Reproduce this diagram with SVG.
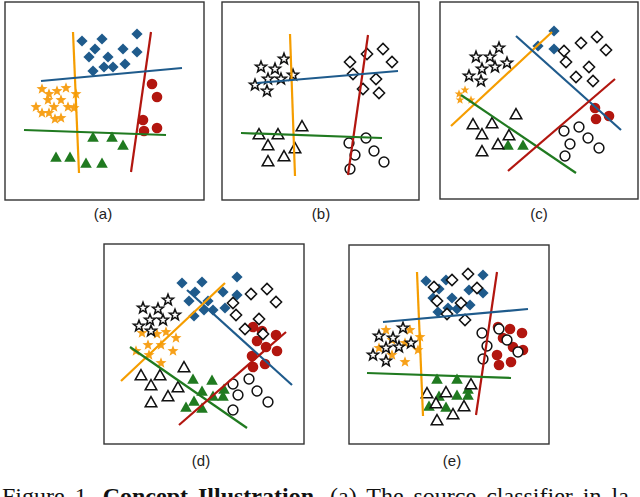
<svg xmlns="http://www.w3.org/2000/svg" width="640" height="497" viewBox="0 0 640 497">
<style>
.box{fill:#fff;stroke:#333;stroke-width:1.4}
.fb{fill:#1f5b8c}
.fo{fill:#f7a11a}
.fr{fill:#b2160f}
.fg{fill:#207a20}
.ok{fill:#fff;stroke:#111;stroke-width:1.5}
.ln{stroke-width:2.2;fill:none}
.lo{stroke:#f59d00}
.lr{stroke:#b2160f}
.lb{stroke:#1f5b8c}
.lg{stroke:#207a20}
.lbl{font-family:"Liberation Sans",Arial,sans-serif;font-size:15px;fill:#222;text-anchor:middle}
.cap{font-family:"Liberation Serif","Times New Roman",serif;font-size:24px;fill:#111}
</style>
<defs>
<path id="dia" d="M0,-5.6 L5.6,0 L0,5.6 L-5.6,0Z"/>
<path id="star" d="M0,-5.8 L1.42,-1.96 L5.52,-1.79 L2.31,0.75 L3.41,4.69 L0,2.42 L-3.41,4.69 L-2.31,0.75 L-5.52,-1.79 L-1.42,-1.96Z"/>
<path id="tri" d="M0,-5.4 L5.8,4.8 L-5.8,4.8Z"/>
<circle id="cf" r="5.3"/>
<circle id="co" r="4.9"/>
</defs>
<rect width="640" height="497" fill="#fff"/>

<g id="panel-a">
<rect class="box" x="5" y="2" width="199" height="198"/>
<g id="a-markers">
<g class="fb">
<use href="#dia" x="82" y="41"/><use href="#dia" x="102" y="39"/><use href="#dia" x="137" y="34"/><use href="#dia" x="95" y="49"/><use href="#dia" x="123" y="49"/><use href="#dia" x="137" y="52"/><use href="#dia" x="89" y="57"/><use href="#dia" x="108" y="57"/><use href="#dia" x="104" y="67"/><use href="#dia" x="113" y="67"/><use href="#dia" x="125" y="64"/><use href="#dia" x="93" y="71"/>
</g>
<g class="fo">
<use href="#star" x="42" y="89"/><use href="#star" x="49" y="94"/><use href="#star" x="57" y="91"/><use href="#star" x="66" y="88"/><use href="#star" x="76" y="94"/><use href="#star" x="48" y="100"/><use href="#star" x="61" y="100"/><use href="#star" x="36" y="107"/><use href="#star" x="54" y="107"/><use href="#star" x="68" y="107"/><use href="#star" x="74" y="108"/><use href="#star" x="42" y="113"/><use href="#star" x="49" y="113"/><use href="#star" x="55" y="119"/><use href="#star" x="61" y="118"/>
</g>
<g class="fr">
<use href="#cf" x="152" y="84"/><use href="#cf" x="157" y="97"/><use href="#cf" x="143" y="120"/><use href="#cf" x="144" y="131"/><use href="#cf" x="157" y="128"/>
</g>
<g class="fg">
<use href="#tri" x="93" y="137"/><use href="#tri" x="112" y="137"/><use href="#tri" x="123" y="145"/><use href="#tri" x="56" y="157"/><use href="#tri" x="70" y="157"/><use href="#tri" x="86" y="163"/><use href="#tri" x="102" y="163"/>
</g>
</g>
<g id="a-lines" class="ln">
<line class="lo" x1="73" y1="32" x2="79" y2="173"/>
<line class="lr" x1="151" y1="32" x2="131" y2="172"/>
<line class="lb" x1="41" y1="81" x2="182" y2="68"/>
<line class="lg" x1="24" y1="130" x2="166" y2="135"/>
</g>
<text class="lbl" x="103" y="219">(a)</text>
</g>

<g id="panel-b">
<rect class="box" x="222" y="2" width="197" height="198"/>
<g id="b-markers" class="ok">
<use href="#star" x="284" y="59"/><use href="#star" x="261" y="67"/><use href="#star" x="275" y="69"/><use href="#star" x="293" y="75"/><use href="#star" x="268" y="79"/><use href="#star" x="281" y="79"/><use href="#star" x="255" y="85"/><use href="#star" x="267" y="91"/>
<use href="#dia" x="367" y="54"/><use href="#dia" x="383" y="49"/><use href="#dia" x="392" y="62"/><use href="#dia" x="350" y="62"/><use href="#dia" x="353" y="74"/><use href="#dia" x="376" y="79"/><use href="#dia" x="363" y="89"/><use href="#dia" x="379" y="93"/>
<use href="#tri" x="302" y="126"/><use href="#tri" x="259" y="134"/><use href="#tri" x="278" y="134"/><use href="#tri" x="268" y="145"/><use href="#tri" x="295" y="148"/><use href="#tri" x="268" y="161"/><use href="#tri" x="284" y="156"/>
<use href="#co" x="366" y="138"/><use href="#co" x="349" y="143"/><use href="#co" x="374" y="151"/><use href="#co" x="355" y="155"/><use href="#co" x="384" y="162"/><use href="#co" x="350" y="169"/>
</g>
<g id="b-lines" class="ln">
<line class="lo" x1="290" y1="34" x2="295" y2="176"/>
<line class="lr" x1="368" y1="35" x2="348" y2="175"/>
<line class="lb" x1="257" y1="83" x2="398" y2="71"/>
<line class="lg" x1="241" y1="133" x2="382" y2="138"/>
</g>
<text class="lbl" x="321" y="219">(b)</text>
</g>

<g id="panel-c">
<rect class="box" x="440" y="2" width="198" height="197"/>
<g id="c-markers">
<g class="fb"><use href="#dia" x="554" y="31"/><use href="#dia" x="538" y="46"/><use href="#dia" x="554" y="49"/></g>
<g class="fo"><use href="#star" transform="translate(459,94) scale(0.8)"/><use href="#star" transform="translate(465,90) scale(0.8)"/><use href="#star" transform="translate(460,100) scale(0.8)"/><use href="#star" transform="translate(471,100) scale(0.8)"/></g>
<g class="fr"><use href="#cf" x="595" y="108"/><use href="#cf" x="596" y="119"/><use href="#cf" x="609" y="116"/></g>
<g class="fg"><use href="#tri" x="508" y="145"/><use href="#tri" x="523" y="145"/></g>
<g class="ok">
<use href="#dia" x="564" y="51"/><use href="#dia" x="581" y="43"/><use href="#dia" x="597" y="37"/><use href="#dia" x="606" y="50"/><use href="#dia" x="566" y="62"/><use href="#dia" x="589" y="67"/><use href="#dia" x="576" y="77"/><use href="#dia" x="593" y="81"/>
<use href="#star" x="499" y="48"/><use href="#star" x="476" y="57"/><use href="#star" x="490" y="57"/><use href="#star" x="482" y="69"/><use href="#star" x="495" y="67"/><use href="#star" x="507" y="63"/><use href="#star" x="469" y="76"/><use href="#star" x="481" y="81"/>
<use href="#co" x="579" y="127"/><use href="#co" x="564" y="131"/><use href="#co" x="588" y="138"/><use href="#co" x="570" y="144"/><use href="#co" x="599" y="148"/><use href="#co" x="565" y="156"/>
<use href="#tri" x="516" y="114"/><use href="#tri" x="473" y="124"/><use href="#tri" x="492" y="123"/><use href="#tri" x="482" y="134"/><use href="#tri" x="509" y="135"/><use href="#tri" x="498" y="144"/><use href="#tri" x="482" y="151"/>
</g>
</g>
<g id="c-lines" class="ln">
<line class="lo" x1="451" y1="126" x2="552" y2="32"/>
<line class="lb" x1="516" y1="36" x2="621" y2="130"/>
<line class="lg" x1="461" y1="95" x2="576" y2="173"/>
<line class="lr" x1="508" y1="171" x2="615" y2="79"/>
</g>
<text class="lbl" x="539" y="219">(c)</text>
</g>

<g id="panel-d">
<rect class="box" x="104" y="244" width="200" height="200"/>
<g id="d-markers">
<g class="fb">
<use href="#dia" x="182" y="283"/><use href="#dia" x="202" y="282"/><use href="#dia" x="237" y="277"/><use href="#dia" x="195" y="292"/><use href="#dia" x="223" y="292"/><use href="#dia" x="237" y="295"/><use href="#dia" x="189" y="301"/><use href="#dia" x="208" y="301"/><use href="#dia" x="204" y="310"/><use href="#dia" x="213" y="310"/><use href="#dia" x="225" y="308"/><use href="#dia" x="194" y="316"/>
</g>
<g class="fo">
<use href="#star" x="142" y="333"/><use href="#star" x="157" y="334"/><use href="#star" x="166" y="332"/><use href="#star" x="176" y="338"/><use href="#star" x="148" y="345"/><use href="#star" x="161" y="345"/><use href="#star" x="136" y="351"/><use href="#star" x="173" y="351"/><use href="#star" x="149" y="355"/><use href="#star" x="161" y="363"/>
</g>
<g class="fr">
<use href="#cf" x="253" y="327"/><use href="#cf" x="262" y="331"/><use href="#cf" x="257" y="341"/><use href="#cf" x="276" y="335"/><use href="#cf" x="266" y="347"/><use href="#cf" x="277" y="351"/><use href="#cf" x="252" y="356"/><use href="#cf" x="265" y="364"/><use href="#cf" x="253" y="367"/>
</g>
<g class="fg">
<use href="#tri" x="193" y="379"/><use href="#tri" x="212" y="380"/><use href="#tri" x="224" y="389"/><use href="#tri" x="202" y="391"/><use href="#tri" x="194" y="401"/><use href="#tri" x="213" y="396"/><use href="#tri" x="223" y="396"/><use href="#tri" x="186" y="407"/><use href="#tri" x="202" y="408"/>
</g>
<g class="ok">
<use href="#dia" x="251" y="294"/><use href="#dia" x="267" y="289"/><use href="#dia" x="276" y="302"/><use href="#dia" x="233" y="303"/><use href="#dia" x="236" y="315"/><use href="#dia" x="259" y="319"/><use href="#dia" x="245" y="329"/><use href="#dia" x="263" y="334"/>
<use href="#star" x="168" y="300"/><use href="#star" x="143" y="308"/><use href="#star" x="158" y="309"/><use href="#star" x="175" y="315"/><use href="#star" x="150" y="320"/><use href="#star" x="163" y="320"/><use href="#star" x="139" y="326"/><use href="#star" x="151" y="331"/>
<use href="#tri" x="184" y="367"/><use href="#tri" x="141" y="375"/><use href="#tri" x="160" y="375"/><use href="#tri" x="151" y="385"/><use href="#tri" x="178" y="387"/><use href="#tri" x="168" y="396"/><use href="#tri" x="151" y="402"/>
<use href="#co" x="249" y="379"/><use href="#co" x="233" y="384"/><use href="#co" x="257" y="391"/><use href="#co" x="238" y="395"/><use href="#co" x="268" y="402"/><use href="#co" x="233" y="410"/>
</g>
</g>
<g id="d-lines" class="ln">
<line class="lb" x1="187" y1="290" x2="292" y2="385"/>
<line class="lo" x1="121" y1="381" x2="225" y2="283"/>
<line class="lg" x1="130" y1="347" x2="247" y2="428"/>
<line class="lr" x1="179" y1="425" x2="286" y2="332"/>
</g>
<text class="lbl" x="201" y="466">(d)</text>
</g>

<g id="panel-e">
<rect class="box" x="349" y="245" width="200" height="199"/>
<g id="e-markers">
<g class="fb">
<use href="#dia" x="426" y="281"/><use href="#dia" x="446" y="280"/><use href="#dia" x="483" y="275"/><use href="#dia" x="439" y="289"/><use href="#dia" x="469" y="290"/><use href="#dia" x="483" y="293"/><use href="#dia" x="433" y="298"/><use href="#dia" x="452" y="298"/><use href="#dia" x="448" y="308"/><use href="#dia" x="457" y="309"/><use href="#dia" x="470" y="305"/><use href="#dia" x="438" y="312"/>
</g>
<g class="fo">
<use href="#star" x="386" y="330"/><use href="#star" x="410" y="330"/><use href="#star" x="420" y="337"/><use href="#star" x="392" y="340"/><use href="#star" x="405" y="343"/><use href="#star" x="379" y="348"/><use href="#star" x="418" y="350"/><use href="#star" x="392" y="355"/><use href="#star" x="405" y="362"/>
</g>
<g class="fr">
<use href="#cf" x="498" y="327"/><use href="#cf" x="510" y="329"/><use href="#cf" x="522" y="333"/><use href="#cf" x="503" y="338"/><use href="#cf" x="513" y="347"/><use href="#cf" x="523" y="350"/><use href="#cf" x="497" y="355"/><use href="#cf" x="511" y="362"/><use href="#cf" x="499" y="365"/>
</g>
<g class="fg">
<use href="#tri" x="437" y="379"/><use href="#tri" x="457" y="379"/><use href="#tri" x="468" y="389"/><use href="#tri" x="439" y="396"/><use href="#tri" x="457" y="395"/><use href="#tri" x="468" y="395"/><use href="#tri" x="429" y="406"/><use href="#tri" x="446" y="407"/>
</g>
<g class="ok">
<use href="#dia" x="468" y="274"/><use href="#dia" x="452" y="280"/><use href="#dia" x="434" y="287"/><use href="#dia" x="477" y="288"/><use href="#dia" x="437" y="301"/><use href="#dia" x="461" y="303"/><use href="#dia" x="447" y="314"/><use href="#dia" x="465" y="320"/>
<use href="#star" x="403" y="328"/><use href="#star" x="379" y="336"/><use href="#star" x="393" y="338"/><use href="#star" x="411" y="343"/><use href="#star" x="386" y="348"/><use href="#star" x="399" y="347"/><use href="#star" x="373" y="355"/><use href="#star" x="386" y="361"/>
<use href="#co" x="482" y="333"/><use href="#co" x="499" y="329"/><use href="#co" x="507" y="340"/><use href="#co" x="487" y="346"/><use href="#co" x="518" y="352"/><use href="#co" x="483" y="359"/>
<use href="#tri" x="471" y="384"/><use href="#tri" x="427" y="393"/><use href="#tri" x="446" y="392"/><use href="#tri" x="436" y="403"/><use href="#tri" x="464" y="406"/><use href="#tri" x="453" y="414"/><use href="#tri" x="437" y="420"/>
</g>
</g>
<g id="e-lines" class="ln">
<line class="lo" x1="417" y1="272" x2="423" y2="416"/>
<line class="lr" x1="497" y1="272" x2="476" y2="415"/>
<line class="lb" x1="383" y1="322" x2="528" y2="309"/>
<line class="lg" x1="367" y1="373" x2="511" y2="378"/>
</g>
<text class="lbl" x="452" y="466">(e)</text>
</g>

<text class="cap" x="2" y="503.5" word-spacing="4">Figure 1. <tspan font-weight="bold">Concept Illustration.</tspan> (a) The source classifier in la-</text>
</svg>
